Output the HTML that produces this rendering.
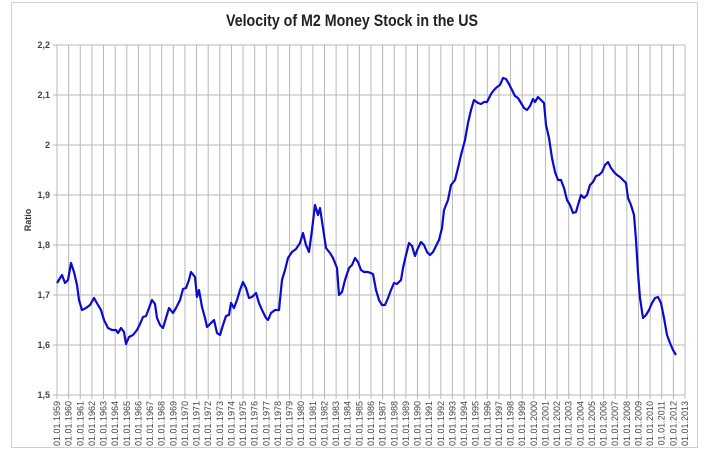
<!DOCTYPE html>
<html><head><meta charset="utf-8"><style>
body{margin:0;background:#fff;}
svg{display:block;font-family:"Liberation Sans",sans-serif;}
</style></head><body>
<svg width="704" height="457" viewBox="0 0 704 457">
<rect x="11.5" y="2.5" width="686" height="445" fill="#fff" stroke="#d0d0d0"/>
<text x="352" y="26" text-anchor="middle" font-size="17" font-weight="bold" fill="#222" textLength="252" lengthAdjust="spacingAndGlyphs">Velocity of M2 Money Stock in the US</text>
<text transform="translate(31,220) rotate(-90)" text-anchor="middle" font-size="9" font-weight="bold" fill="#333">Ratio</text>
<g id="grid" stroke="#b8b8b8" stroke-width="1"></g>
<g id="lbl" font-size="9" fill="#444"></g>
<polyline fill="none" stroke="#0a0ad0" stroke-width="2.2" stroke-linejoin="round" points="57,283 62,275 65,283 68,280 71,263 74,272 77,285 79,300 82,310 86,308 90,305 94,298 98,305 101,310 104,320 108,328 112,330 116,330 118,333 121,328 124,332 126,344 129,337 133,335 137,330 140,324 143,317 146,316 149,308 152,300 155,304 157,318 160,325 163,328 166,318 169,308 173,313 176,308 180,300 183,289 186,288 189,280 191,272 195,277 197,297 199,290 202,307 205,318 207,327 212,322 214,320 217,333 220,335 223,325 226,316 229,315 231,303 234,308 237,300 240,290 243,282 246,288 249,298 252,297 256,293 259,303 262,310 266,318 268,320 271,313 275,310 279,310 282,280 285,270 288,258 292,252 296,249 300,243 303,233 306,245 309,252 312,230 315,205 318,215 320,208 323,228 326,248 330,253 333,258 337,268 339,295 342,292 345,280 349,268 352,265 355,258 358,262 361,270 364,272 368,272 373,274 376,290 379,300 382,305 385,305 388,298 391,290 394,283 397,284 401,280 403,268 406,255 409,243 412,246 415,256 418,248 421,242 424,245 427,252 430,255 433,252 436,246 439,240 442,228 444,210 448,200 451,185 455,180 458,168 461,155 465,140 468,123 471,110 474,100 478,103 481,104 484,102 487,102 491,94 494,90 497,87 500,85 503,78 506,79 509,84 512,90 515,96 518,98 521,103 524,108 527,110 530,106 533,99 535,102 538,97 541,100 544,103 546,125 549,138 552,158 555,172 558,180 561,180 564,188 567,200 570,205 573,213 576,212 578,205 581,195 584,198 587,195 590,185 593,182 596,176 599,175 602,172 605,165 608,162 611,168 614,172 617,175 620,177 623,180 626,183 628,198 631,205 634,215 636,240 638,273 640,298 643,318 646,315 649,310 652,303 655,298 658,297 661,303 664,318 667,335 670,343 673,350 676,355"/>
</svg>
<script>
var g=document.getElementById('grid'),l=document.getElementById('lbl'),ns='http://www.w3.org/2000/svg';
function el(p,t,a,tx){var e=document.createElementNS(ns,t);for(var k in a)e.setAttribute(k,a[k]);if(tx)e.textContent=tx;p.appendChild(e);}
for(var i=0;i<=54;i++){var x=57+i*628/54;el(g,'line',{x1:x,y1:45,x2:x,y2:399});
el(l,'text',{transform:'translate('+(x+3)+',401) rotate(-90)','text-anchor':'end'},'01.01.'+(1959+i));}
var yl=['2,2','2,1','2','1,9','1,8','1,7','1,6','1,5'];
for(var j=0;j<8;j++){var y=45+j*50;el(g,'line',{x1:53,y1:y,x2:685,y2:y});
el(l,'text',{x:50,y:y+3,'text-anchor':'end','font-weight':'bold'},yl[j]);}
</script>
</body></html>
